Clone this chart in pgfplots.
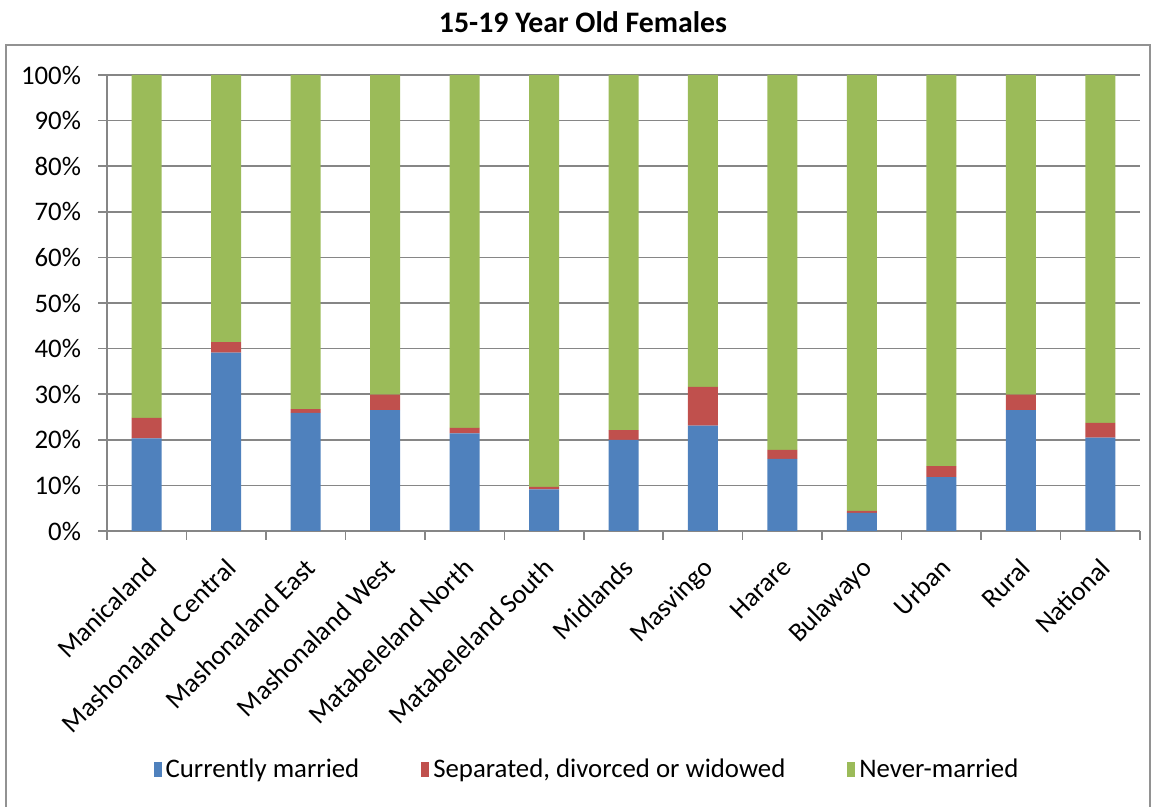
\documentclass[border=0pt]{standalone}
\usepackage{pgfplots}
\pgfplotsset{compat=1.18}
\usepackage{pgfplotstable}
\usepackage{fontspec}
\setmainfont{Carlito}
\definecolor{cblue}{HTML}{4F81BD}
\definecolor{cred}{HTML}{C0504D}
\definecolor{cgreen}{HTML}{9BBB59}
\definecolor{gridgray}{HTML}{868686}
\pgfplotstableread{
x married sep never
0 20.3 4.5 75.2
1 39.1 2.3 58.6
2 25.9 0.85 73.25
3 26.5 3.4 70.1
4 21.4 1.2 77.4
5 9.1 0.6 90.3
6 20.0 2.1 77.9
7 23.1 8.5 68.4
8 15.8 2.0 82.2
9 4.0 0.4 95.6
10 11.8 2.4 85.8
11 26.5 3.4 70.1
12 20.5 3.2 76.3
}\datatable
\begin{document}
\begin{tikzpicture}
\useasboundingbox (-53.5pt,-138pt) rectangle (523pt,265.5pt);
\draw[gridgray!90, line width=1pt] (-50.5pt,-140pt) rectangle (521.5pt,243pt);
\node[font=\fontsize{14.9}{17}\selectfont\bfseries] at (238pt,254.5pt) {15-19 Year Old Females};
\begin{axis}[
  at={(0pt,0pt)}, anchor=south west,
  scale only axis,
  width=516.5pt, height=228pt,
  ybar stacked, bar width=15pt,
  xmin=-0.5, xmax=12.5, ymin=0, ymax=100,
  axis x line*=bottom, axis y line*=left,
  axis line style={gridgray, line width=0.8pt},
  tick style={gridgray, line width=0.8pt},
  tick align=outside,
  major tick length=4.5pt,
  xtick={-0.5,0.5,...,12.5}, xticklabels={},
  extra x ticks={0,...,12},
  extra x tick labels={Manicaland,Mashonaland Central,Mashonaland East,Mashonaland West,Matabeleland North,Matabeleland South,Midlands,Masvingo,Harare,Bulawayo,Urban,Rural,National},
  extra x tick style={major tick length=0pt, xticklabel style={rotate=45, anchor=north east, inner sep=1pt, yshift=-7.2pt, xshift=-8.5pt}},
  ytick={0,10,...,100},
  yticklabel={\pgfmathprintnumber{\tick}\%},
  yticklabel style={xshift=-5pt},
  /pgf/number format/assume math mode=true,
  ymajorgrids, grid style={gridgray, line width=0.8pt},
  tick label style={font=\fontsize{13.4}{16}\selectfont, text=black},
  legend style={at={(0.4656,-0.524)}, anchor=center, draw=none, legend columns=3,
    font=\fontsize{13.4}{16}\selectfont, /tikz/every even column/.append style={column sep=29pt}},
  legend image code/.code={\fill[#1] (0pt,-3.5pt) rectangle (4pt,4pt);},
]
\addplot[fill=cblue, draw=none] table[x=x, y=married] {\datatable};
\addplot[fill=cred, draw=none] table[x=x, y=sep] {\datatable};
\addplot[fill=cgreen, draw=none] table[x=x, y=never] {\datatable};
\legend{Currently married, {Separated, divorced or widowed}, Never-married}
\end{axis}
\end{tikzpicture}
\end{document}
